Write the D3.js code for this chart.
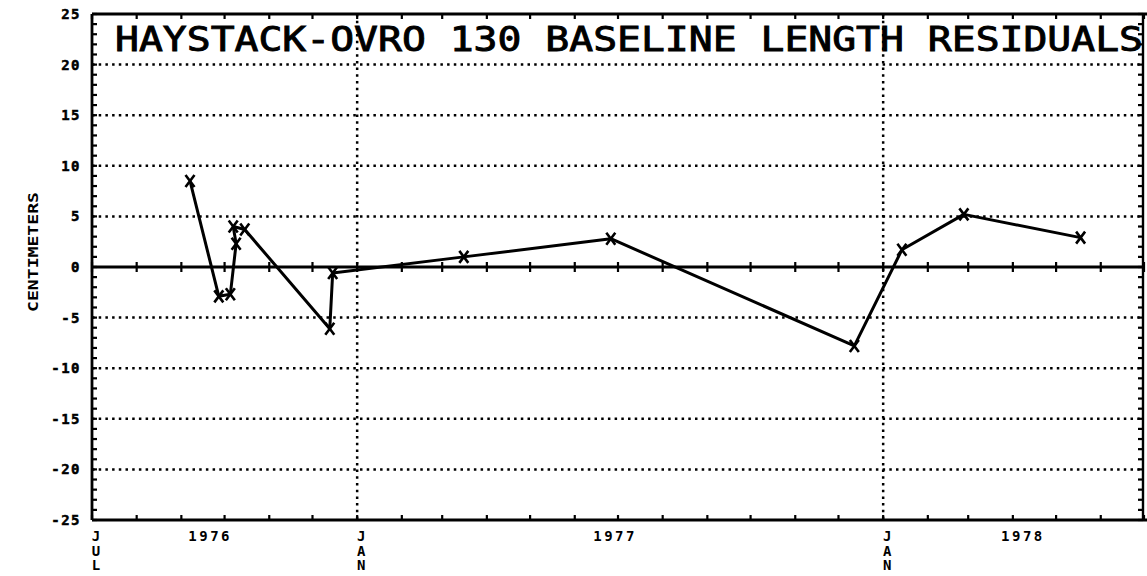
<!DOCTYPE html>
<html><head><meta charset="utf-8">
<script src="https://cdn.jsdelivr.net/npm/d3@7"></script>
<style>
html,body{margin:0;padding:0;background:#fff;}
svg{display:block;}
text{font-family:"DejaVu Sans Mono",monospace;fill:#000;}
</style></head>
<body>
<svg id="chart" width="1147" height="576"></svg>
<script>
// ---- data ----
const title = "HAYSTACK-OVRO 130 BASELINE LENGTH RESIDUALS";
const yLabel = "CENTIMETERS";
const obsDates = ["1976-09-07","1976-09-27","1976-10-05","1976-10-09","1976-10-07","1976-10-15",
                  "1976-12-13","1976-12-15","1977-03-16","1977-06-26","1977-12-12",
                  "1978-01-14","1978-02-26","1978-05-18"];
const residuals = [8.5, -2.9, -2.7, 2.3, 4.0, 3.7, -6.1, -0.6, 1.0, 2.8, -7.8, 1.7, 5.2, 2.9];
const yTicks = [25, 20, 15, 10, 5, 0, -5, -10, -15, -20, -25];
const monthLabels = [["1976-07-01","JUL"],["1977-01-01","JAN"],["1978-01-01","JAN"]];
const yearLabels = [["1976-09-21","1976"],["1977-06-29","1977"],["1978-04-08","1978"]];
const gridDates = ["1977-01-01","1978-01-01"];

const parse = d3.timeParse("%Y-%m-%d");
const svg = d3.select("#chart");

const x = d3.scaleTime().domain([parse("1976-07-01"), parse("1978-07-01")]).range([92, 1144]);
const y = d3.scaleLinear().domain([-25, 25]).range([520, 14]);
const X0 = x.range()[0], X1 = x.range()[1] - 1, Y0 = y.range()[0], Y1 = y.range()[1];

// grid: horizontal dotted
svg.append("g").selectAll("line").data(yTicks.filter(v => Math.abs(v) !== 25 && v !== 0))
  .join("line")
  .attr("x1", X0).attr("x2", X1).attr("y1", d => y(d)).attr("y2", d => y(d))
  .attr("stroke", "#000").attr("stroke-width", 2.5).attr("stroke-dasharray", "2.5,4.2");

// grid: vertical dotted at JAN
svg.append("g").selectAll("line").data(gridDates)
  .join("line")
  .attr("x1", d => x(parse(d))).attr("x2", d => x(parse(d)))
  .attr("y1", Y1).attr("y2", Y0)
  .attr("stroke", "#000").attr("stroke-width", 2.5).attr("stroke-dasharray", "2.5,4.2");

// month ticks
const months = d3.timeMonth.range(parse("1976-07-01"), parse("1978-07-02"));

// zero line
svg.append("line").attr("x1", X0).attr("x2", X1).attr("y1", y(0)).attr("y2", y(0))
  .attr("stroke", "#000").attr("stroke-width", 3.2);
svg.append("g").selectAll("line").data(months).join("line")
  .attr("x1", d => x(d)).attr("x2", d => x(d))
  .attr("y1", y(0) - 5).attr("y2", y(0) + 5)
  .attr("stroke", "#000").attr("stroke-width", 2.2);

// frame: bottom axis, top border, left and right axes
const frame = svg.append("g").attr("stroke", "#000").attr("fill", "none");
frame.append("line").attr("x1", X0).attr("x2", 1147).attr("y1", Y0).attr("y2", Y0).attr("stroke-width", 2.8);
frame.append("line").attr("x1", X0).attr("x2", 1147).attr("y1", Y1).attr("y2", Y1).attr("stroke-width", 2.8);
frame.append("line").attr("x1", X0).attr("x2", X0).attr("y1", Y1).attr("y2", Y0).attr("stroke-width", 2.8);
frame.append("line").attr("x1", X1).attr("x2", X1).attr("y1", Y1).attr("y2", Y0).attr("stroke-width", 2.4);

// month ticks on bottom and top
frame.append("g").selectAll("line").data(months).join("line")
  .attr("x1", d => x(d)).attr("x2", d => x(d)).attr("y1", Y0).attr("y2", Y0 - 5).attr("stroke-width", 2.2);
frame.append("g").selectAll("line").data(months).join("line")
  .attr("x1", d => x(d)).attr("x2", d => x(d)).attr("y1", Y1).attr("y2", Y1 + 5).attr("stroke-width", 2.2);

// minor y ticks every 1 cm on left and right
const minor = d3.range(-25, 26, 1);
frame.append("g").selectAll("line").data(minor).join("line")
  .attr("x1", X0).attr("x2", X0 + 5).attr("y1", d => y(d)).attr("y2", d => y(d)).attr("stroke-width", 2.2);
frame.append("g").selectAll("line").data(minor).join("line")
  .attr("x1", X1).attr("x2", X1 - 5).attr("y1", d => y(d)).attr("y2", d => y(d)).attr("stroke-width", 2.2);

// y tick labels
svg.append("g").selectAll("text").data(yTicks).join("text")
  .attr("x", 81).attr("y", d => y(d) + 5)
  .attr("text-anchor", "end")
  .attr("font-size", 14).attr("font-weight", "bold").attr("letter-spacing", 1.5)
  .attr("stroke", "#000").attr("stroke-width", 0.5)
  .text(d => d);

// y axis title
svg.append("text")
  .attr("transform", "translate(38,252) rotate(-90)")
  .attr("text-anchor", "middle")
  .attr("font-size", 14).attr("font-weight", "bold")
  .attr("textLength", 120).attr("lengthAdjust", "spacingAndGlyphs")
  .text(yLabel);

// month labels (stacked letters)
const ml = svg.append("g").selectAll("text").data(monthLabels).join("text")
  .attr("text-anchor", "middle").attr("font-size", 14).attr("font-weight", "bold");
ml.each(function(d) {
  const t = d3.select(this);
  d[1].split("").forEach((c, i) => {
    t.append("tspan").attr("x", x(parse(d[0])) + 4).attr("y", 541 + i * 14.5).text(c);
  });
});

// year labels
svg.append("g").selectAll("text").data(yearLabels).join("text")
  .attr("x", d => x(parse(d[0]))).attr("y", 541)
  .attr("text-anchor", "middle")
  .attr("font-size", 14).attr("font-weight", "bold").attr("letter-spacing", 2.5)
  .text(d => d[1]);

// title
svg.append("text")
  .attr("x", 115).attr("y", 51)
  .attr("font-size", 33)
  .attr("stroke", "#000").attr("stroke-width", 0.9)
  .attr("textLength", 1028).attr("lengthAdjust", "spacingAndGlyphs")
  .text(title);

// data line and markers
const pts = obsDates.map((d, i) => ({date: parse(d), v: residuals[i]}));
svg.append("path").datum(pts)
  .attr("fill", "none").attr("stroke", "#000").attr("stroke-width", 3)
  .attr("stroke-linejoin", "round")
  .attr("d", d3.line().x(d => x(d.date)).y(d => y(d.v)));

svg.append("g").selectAll("path").data(pts).join("path")
  .attr("transform", d => `translate(${x(d.date)},${y(d.v)})`)
  .attr("d", "M-4.5,-6L4.5,6M4.5,-6L-4.5,6")
  .attr("stroke", "#000").attr("stroke-width", 2.6).attr("fill", "none");
</script>
</body></html>
